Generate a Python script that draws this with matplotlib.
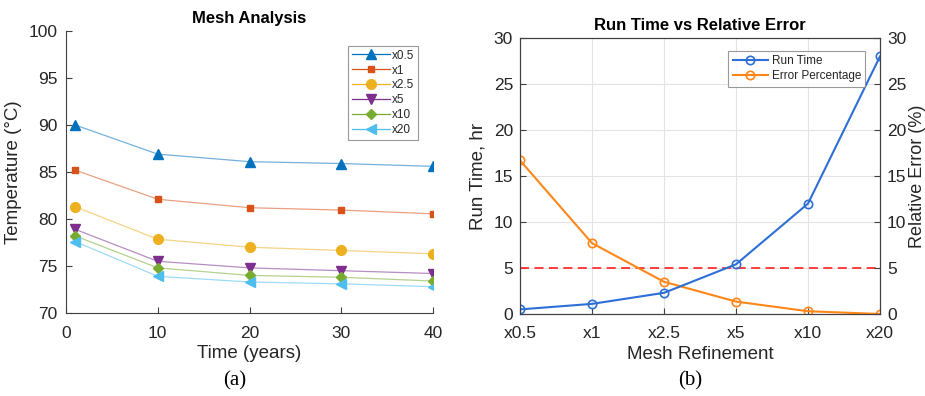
import matplotlib.pyplot as plt

plt.rcParams["font.family"] = ["Liberation Sans", "DejaVu Sans"]

# -----------------------------
# DATA
# -----------------------------
years = [1, 10, 20, 30, 40]

mesh_labels = ["x0.5", "x1", "x2.5", "x5", "x10", "x20"]

temp_x05 = [90.0, 86.9, 86.1, 85.9, 85.6]
temp_x1 = [85.2, 82.1, 81.2, 80.95, 80.55]
temp_x25 = [81.3, 77.85, 77.0, 76.65, 76.3]
temp_x5 = [78.9, 75.5, 74.8, 74.5, 74.2]
temp_x10 = [78.2, 74.8, 74.0, 73.8, 73.4]
temp_x20 = [77.6, 73.9, 73.3, 73.1, 72.8]

run_time = [0.5, 1.1, 2.3, 5.4, 12.0, 28.0]
error_pct = [16.7, 7.7, 3.5, 1.35, 0.3, 0.0]
error_limit = 5

# -----------------------------
# STYLE
# -----------------------------
temp_series = [temp_x05, temp_x1, temp_x25, temp_x5, temp_x10, temp_x20]
colors = ["#0072BD", "#D95319", "#EDB120", "#7E2F8E", "#77AC30", "#4DBEEE"]
markers = ["^", "s", "o", "v", "D", "<"]
msizes = [6.5, 5, 7, 6.5, 5, 6.5]

axis_grey = "#404040"
text_grey = "#262626"

fig = plt.figure(figsize=(9.25, 3.96), dpi=100)

# -----------------------------
# (a) MESH ANALYSIS
# -----------------------------
ax1 = fig.add_axes([66 / 925, 1 - 313 / 396, 367 / 925, 282 / 396])

for vals, lab, c, m, ms in zip(temp_series, mesh_labels, colors, markers, msizes):
    ax1.plot(years, vals, color=c, lw=0.9, alpha=0.55)
    ax1.plot(years, vals, color=c, lw=0, marker=m, markersize=ms)
    ax1.plot([], [], color=c, lw=0.9, marker=m, markersize=ms,
             label=lab)

ax1.set_xlim(0, 40)
ax1.set_ylim(70, 100)
ax1.set_xticks([0, 10, 20, 30, 40])
ax1.set_yticks([70, 75, 80, 85, 90, 95, 100])
ax1.spines["top"].set_visible(False)
ax1.spines["right"].set_visible(False)
for s in ["left", "bottom"]:
    ax1.spines[s].set_color(axis_grey)
ax1.tick_params(direction="in", length=4, colors=axis_grey,
                labelcolor=text_grey, labelsize=12.5)
ax1.tick_params(axis="x", pad=9)
ax1.tick_params(axis="y", pad=6)
ax1.set_title("Mesh Analysis", fontsize=12, fontweight="bold", pad=6)
ax1.set_xlabel("Time (years)", fontsize=13.5, color=text_grey, labelpad=3)
ax1.set_ylabel("Temperature (°C)", fontsize=13.5, color=text_grey, labelpad=5)

leg1 = ax1.legend(loc="upper right", bbox_to_anchor=(0.965, 0.955),
                  fontsize=8.5, fancybox=False, handlelength=3.2,
                  borderpad=0.3, labelspacing=0.25, handletextpad=0.2,
                  borderaxespad=0.2)
leg1.get_frame().set_edgecolor("#808080")
leg1.get_frame().set_linewidth(0.8)
for t in leg1.get_texts():
    t.set_color(text_grey)

fig.text(235 / 925, 1 - 381 / 396, "(a)", fontsize=15,
         family=["Liberation Serif", "DejaVu Serif"], ha="center", va="center")

# -----------------------------
# (b) RUN TIME VS RELATIVE ERROR
# -----------------------------
ax2 = fig.add_axes([520 / 925, 1 - 314 / 396, 360 / 925, 276 / 396])
ax3 = ax2.twinx()

pos = list(range(len(mesh_labels)))

l1, = ax2.plot(pos, run_time, color="#2D6FD6", lw=1.5, marker="o",
               markersize=6, markerfacecolor="none", markeredgewidth=1.2,
               label="Run Time", zorder=4)
l2, = ax2.plot(pos, error_pct, color="#FF8619", lw=1.5, marker="o",
               markersize=6, markerfacecolor="none", markeredgewidth=1.2,
               label="Error Percentage", zorder=3)
ax2.axhline(error_limit, color="#FF3030", lw=1.3, ls=(0, (5, 3)), zorder=2)

ax2.set_xlim(0, 5)
ax2.set_ylim(0, 30)
ax3.set_ylim(0, 30)
ax2.set_xticks(pos)
ax2.set_xticklabels(mesh_labels)
ax2.set_yticks(range(0, 31, 5))
ax3.set_yticks(range(0, 31, 5))
ax2.grid(True, color="#E3E3E3", lw=0.8)
ax2.set_axisbelow(True)

for a in (ax2, ax3):
    for s in a.spines.values():
        s.set_color(axis_grey)
    a.tick_params(direction="in", length=4, colors=axis_grey,
                  labelcolor=text_grey, labelsize=12.5)
    a.tick_params(axis="y", pad=5)
ax2.tick_params(axis="x", pad=9)

ax2.set_title("Run Time vs Relative Error", fontsize=12,
              fontweight="bold", pad=6)
ax2.set_xlabel("Mesh Refinement", fontsize=13.5, color=text_grey, labelpad=3)
ax2.set_ylabel("Run Time, hr", fontsize=13.5, color=text_grey, labelpad=5)
ax3.set_ylabel("Relative Error (%)", fontsize=13, color=text_grey, labelpad=2)

leg2 = ax2.legend(handles=[l1, l2], loc="upper right",
                  bbox_to_anchor=(0.975, 0.975), fontsize=8.5,
                  fancybox=False, handlelength=3.0, borderpad=0.35,
                  labelspacing=0.3, handletextpad=0.3)
leg2.get_frame().set_edgecolor("#808080")
leg2.get_frame().set_linewidth(0.8)
for t in leg2.get_texts():
    t.set_color(text_grey)

fig.text(690 / 925, 1 - 381 / 396, "(b)", fontsize=15,
         family=["Liberation Serif", "DejaVu Serif"], ha="center", va="center")

fig.savefig("out.png", dpi=100)
